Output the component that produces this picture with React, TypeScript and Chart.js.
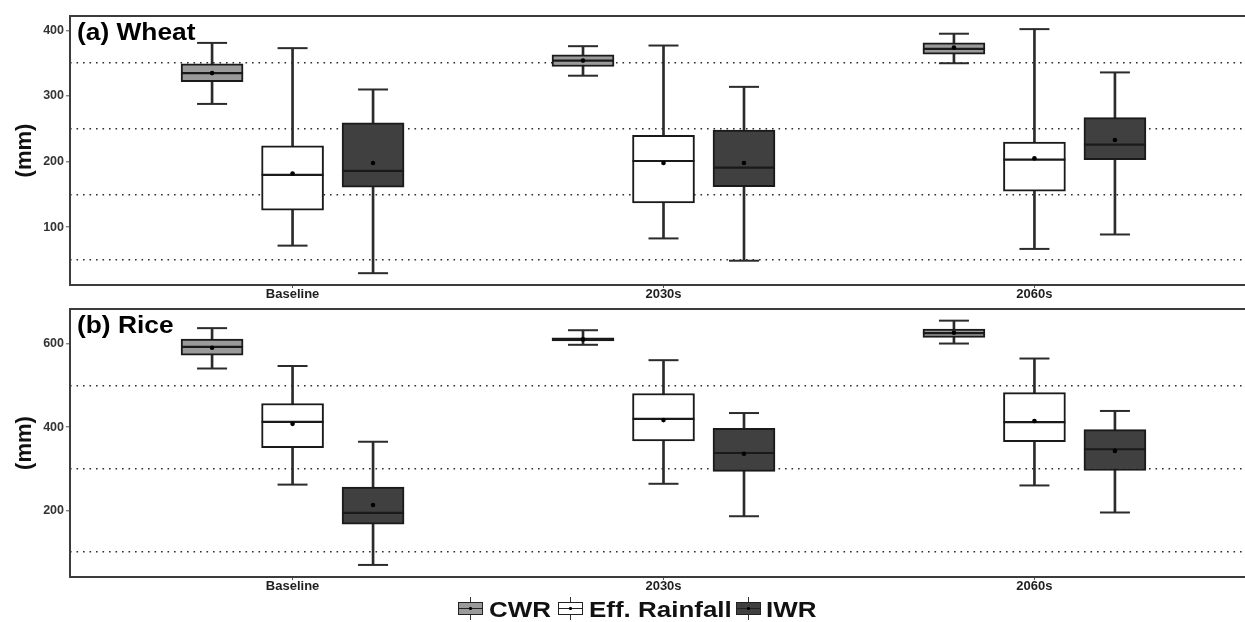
import React, { useEffect, useRef } from 'react';
import { Chart, registerables } from 'chart.js';

Chart.register(...registerables);

// ---------- data ----------
const categories = ['Baseline', '2030s', '2060s'];
const seriesNames = ['CWR', 'Eff. Rainfall', 'IWR'];
const seriesFills = ['#9a9a9a', '#ffffff', '#404040'];

// each row (one per category): [lower whisker, Q1, median, Q3, upper whisker, mean]
const wheatCWR = [[288, 322, 335, 349, 381, 335], [331, 345, 354, 363, 376, 354], [350, 364, 372, 381, 395, 374]];
const wheatEff = [[72, 126, 180, 224, 373, 182], [83, 137, 201, 240, 377, 198], [67, 155, 203, 230, 402, 205]];
const wheatIWR = [[30, 161, 186, 259, 310, 198], [49, 162, 191, 248, 314, 198], [89, 203, 226, 267, 336, 233]];

const riceCWR = [[541, 573, 593, 612, 638, 591], [598, 607, 611, 615, 633, 611], [601, 616, 626, 636, 656, 627]];
const riceEff = [[262, 351, 413, 457, 547, 408], [264, 367, 420, 481, 561, 417], [260, 365, 412, 483, 565, 415]];
const riceIWR = [[69, 167, 194, 256, 365, 213], [186, 294, 338, 397, 434, 336], [195, 296, 347, 394, 439, 343]];

const wheatTicks = [100, 200, 300, 400];
const wheatMinorGrid = [50, 150, 250, 350];
const wheatRange = [12, 422];
const riceTicks = [200, 400, 600];
const riceMinorGrid = [100, 300, 500];
const riceRange = [40, 684];

// ---------- styling ----------
const FONT = '"Liberation Sans", Arial, Helvetica, sans-serif';
Chart.defaults.font.family = FONT;
const DODGE = [-0.217, 0, 0.217];
const WHISKER = '#2b2b2b';
const BOX_LINE = '#1a1a1a';
const GRID = '#2e2e2e';

function buildDatasets(series: number[][][]) {
  const ds: any[] = [];
  series.forEach((rows, i) => {
    const xs = rows.map((_, j) => j + 1 + DODGE[i]);
    ds.push({
      type: 'bar', label: seriesNames[i] + ' whiskers',
      data: rows.map((r, j) => ({ x: xs[j], y: [r[0], r[4]] })),
      backgroundColor: WHISKER, borderWidth: 0, barThickness: 2, grouped: false, order: 5,
    });
    ds.push({
      type: 'scatter', label: seriesNames[i] + ' caps',
      data: rows.flatMap((r, j) => [{ x: xs[j], y: r[0] }, { x: xs[j], y: r[4] }]),
      pointStyle: 'line', pointRadius: 15, pointBorderWidth: 2,
      pointBorderColor: WHISKER, borderColor: WHISKER, order: 4,
    });
    ds.push({
      type: 'bar', label: seriesNames[i],
      data: rows.map((r, j) => ({ x: xs[j], y: [r[1], r[3]] })),
      backgroundColor: seriesFills[i], borderColor: BOX_LINE, borderWidth: 2,
      borderSkipped: false, barThickness: 62, grouped: false, order: 3,
    });
    ds.push({
      type: 'scatter', label: seriesNames[i] + ' median',
      data: rows.map((r, j) => ({ x: xs[j], y: r[2] })),
      pointStyle: 'line', pointRadius: 31, pointBorderWidth: 2.2,
      pointBorderColor: BOX_LINE, borderColor: BOX_LINE, order: 2,
    });
    ds.push({
      type: 'scatter', label: seriesNames[i] + ' mean',
      data: rows.map((r, j) => ({ x: xs[j], y: r[5] })),
      pointStyle: 'circle', pointRadius: 2.3, pointBorderWidth: 0,
      pointBackgroundColor: '#000', backgroundColor: '#000', order: 1,
    });
  });
  return ds;
}

const panelDecor = {
  id: 'panelDecor',
  afterDatasetsDraw(chart: any, _args: any, opts: any) {
    const { ctx, chartArea } = chart;
    const { left, top, right, bottom } = chartArea;
    ctx.save();
    ctx.strokeStyle = '#3c3c3c';
    ctx.lineWidth = 2;
    ctx.strokeRect(left, top, right - left, bottom - top);
    ctx.fillStyle = '#000';
    ctx.font = `bold 23.5px ${FONT}`;
    ctx.textBaseline = 'alphabetic';
    ctx.textAlign = 'left';
    ctx.translate(left + 7, top + 24);
    ctx.scale(1.12, 1);
    ctx.fillText(opts.text, 0, 0);
    ctx.restore();
  },
};

function makeConfig(series: number[][][], ticks: number[], minor: number[], range: number[], title: string, padTop: number): any {
  const all = [...minor, ...ticks].sort((a, b) => a - b);
  return {
    type: 'bar',
    data: { datasets: buildDatasets(series) },
    plugins: [panelDecor],
    options: {
      responsive: false,
      animation: false,
      events: [],
      layout: { autoPadding: false, padding: { top: padTop, right: 3, left: 0, bottom: 0 } },
      plugins: {
        legend: { display: false },
        tooltip: { enabled: false },
        panelDecor: { text: title },
      },
      scales: {
        x: {
          type: 'linear', min: 0.4, max: 3.6, offset: false,
          afterBuildTicks: (s: any) => { s.ticks = categories.map((_, i) => ({ value: i + 1 })); },
          afterFit: (s: any) => { s.height = 22; },
          ticks: {
            callback: (_v: any, i: number) => categories[i],
            font: { size: 13, weight: 'bold', lineHeight: 1 },
            color: '#1e1e1e', padding: 0, maxRotation: 0, autoSkip: false,
          },
          grid: { offset: false, drawOnChartArea: false, drawTicks: true, tickLength: 3, color: '#555', lineWidth: 1 },
          border: { display: false },
        },
        y: {
          type: 'linear', min: range[0], max: range[1],
          afterBuildTicks: (s: any) => { s.ticks = all.map((v) => ({ value: v })); },
          afterFit: (s: any) => { s.width = 70; },
          ticks: {
            callback: (v: any) => (ticks.includes(v) ? String(v) : ''),
            font: { size: 12.5, weight: 'bold' },
            color: '#333', padding: 2, autoSkip: false,
          },
          grid: {
            color: (c: any) => (c.tick && minor.includes(c.tick.value) ? GRID : 'rgba(0,0,0,0)'),
            lineWidth: 1.6,
            tickLength: 4,
            tickWidth: 1,
            tickColor: (c: any) => (c.tick && ticks.includes(c.tick.value) ? '#555' : 'rgba(0,0,0,0)'),
            tickBorderDash: [],
          },
          border: { display: false, dash: [1.6, 4.9] },
          title: {
            display: true, text: '(mm)', color: '#111',
            font: { size: 22, weight: 'bold' },
            padding: { top: 12, bottom: 0 },
          },
        },
      },
    },
  };
}

function Panel(props: { series: number[][][]; ticks: number[]; minor: number[]; range: number[]; title: string; top: number; height: number; padTop: number }) {
  const ref = useRef<HTMLCanvasElement | null>(null);
  useEffect(() => {
    if (!ref.current) return;
    const chart = new Chart(ref.current, makeConfig(props.series, props.ticks, props.minor, props.range, props.title, props.padTop));
    return () => chart.destroy();
  }, []);
  return (
    <div style={{ position: 'absolute', left: 0, top: props.top, width: 1260, height: props.height }}>
      <canvas ref={ref} width={1260} height={props.height} style={{ display: 'block' }} />
    </div>
  );
}

function LegendGlyph({ left, fill }: { left: number; fill: string }) {
  return (
    <div style={{ position: 'absolute', left, top: 597, width: 25, height: 23 }}>
      <div style={{ position: 'absolute', left: 11.75, top: 0, width: 1.5, height: 23, background: '#333' }} />
      <div style={{ position: 'absolute', left: 0, top: 5, width: 25, height: 13, boxSizing: 'border-box', border: '1.5px solid #222', background: fill }} />
      <div style={{ position: 'absolute', left: 0, top: 10.75, width: 25, height: 1.5, background: '#222' }} />
      <div style={{ position: 'absolute', left: 11.25, top: 10.25, width: 2.5, height: 2.5, borderRadius: '50%', background: '#000' }} />
    </div>
  );
}

const glyphLefts = [458, 558, 736];
const textLefts = [489, 589, 766];

function Legend() {
  return (
    <>
      {seriesNames.map((name, i) => (
        <React.Fragment key={name}>
          <LegendGlyph left={glyphLefts[i]} fill={seriesFills[i]} />
          <div style={{
            position: 'absolute', left: textLefts[i], top: 599, fontFamily: FONT, fontWeight: 'bold',
            fontSize: 22, lineHeight: '22px', color: '#111', whiteSpace: 'nowrap',
            transform: 'scaleX(1.18)', transformOrigin: '0 0',
          }}>{name}</div>
        </React.Fragment>
      ))}
    </>
  );
}

export default function App() {
  return (
    <div style={{ position: 'fixed', left: 0, top: 0, width: 1245, height: 622, overflow: 'hidden', background: '#fff' }}>
      <Panel series={[wheatCWR, wheatEff, wheatIWR]} ticks={wheatTicks} minor={wheatMinorGrid} range={wheatRange} title="(a) Wheat" top={0} height={307} padTop={16} />
      <Panel series={[riceCWR, riceEff, riceIWR]} ticks={riceTicks} minor={riceMinorGrid} range={riceRange} title="(b) Rice" top={295} height={304} padTop={14} />
      <Legend />
    </div>
  );
}
